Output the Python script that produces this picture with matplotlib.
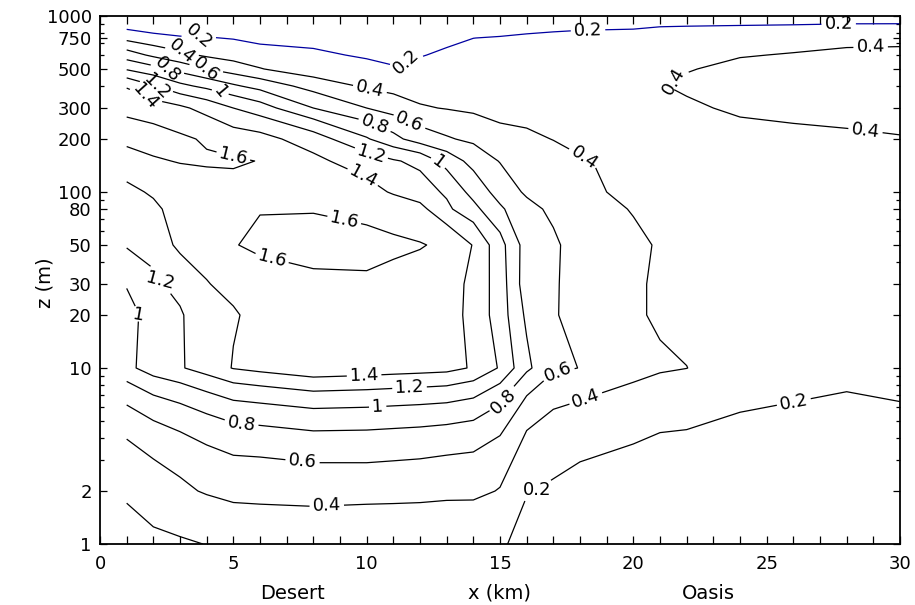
import numpy as np
import matplotlib
matplotlib.use("Agg")
import matplotlib.pyplot as plt
from matplotlib.ticker import FixedLocator, FixedFormatter, MultipleLocator, NullFormatter

# stations across the transect (km) and sounding heights (m)
x_km = [1, 2, 3, 4, 5, 6, 8, 10, 11, 12, 13, 14, 15, 16, 17, 18, 20, 21, 22, 24, 26, 28, 30]
z_m = [1, 2, 10, 20, 30, 50, 80, 100, 150, 200, 300, 400, 500, 600, 750, 1000]

# profile at each station, bottom to top
s01 = [0.14, 0.225, 0.945, 0.95, 1.01, 1.22, 1.30, 1.36, 1.50, 1.66, 1.57, 1.38, 0.98, 0.70, 0.34, -0.05]
s02 = [0.168, 0.295, 1.10, 1.06, 1.17, 1.26, 1.37, 1.42, 1.58, 1.68, 1.50, 1.21, 0.87, 0.56, 0.26, -0.05]
s03 = [0.182, 0.359, 1.18, 1.18, 1.26, 1.45, 1.46, 1.50, 1.61, 1.63, 1.44, 1.05, 0.73, 0.45, 0.22, -0.05]
s04 = [0.203, 0.42, 1.29, 1.32, 1.39, 1.50, 1.52, 1.53, 1.62, 1.58, 1.33, 0.95, 0.60, 0.37, 0.21, -0.03]
s05 = [0.25, 0.458, 1.41, 1.38, 1.46, 1.59, 1.55, 1.55, 1.62, 1.50, 1.20, 0.83, 0.50, 0.32, 0.19, -0.03]
s06 = [0.27, 0.46, 1.46, 1.46, 1.52, 1.64, 1.59, 1.55, 1.595, 1.47, 1.09, 0.73, 0.41, 0.28, 0.15, -0.03]
s08 = [0.26, 0.48, 1.55, 1.50, 1.57, 1.66, 1.59, 1.53, 1.45, 1.30, 0.80, 0.52, 0.28, 0.23, 0.147, -0.03]
s10 = [0.22, 0.484, 1.52, 1.50, 1.58, 1.65, 1.55, 1.47, 1.29, 1.02, 0.60, 0.37, 0.25, 0.18, 0.094, -0.03]
s11 = [0.225, 0.476, 1.50, 1.50, 1.56, 1.63, 1.51, 1.38, 1.22, 0.86, 0.51, 0.33, 0.215, 0.155, 0.09, -0.03]
s12 = [0.229, 0.467, 1.483, 1.50, 1.54, 1.61, 1.46, 1.29, 1.15, 0.70, 0.42, 0.30, 0.25, 0.19, 0.11, -0.02]
s13 = [0.24, 0.448, 1.464, 1.48, 1.50, 1.57, 1.24, 1.17, 0.92, 0.62, 0.39, 0.30, 0.27, 0.23, 0.157, 0.0]
s14 = [0.245, 0.444, 1.38, 1.347, 1.346, 1.39, 1.06, 0.93, 0.73, 0.56, 0.36, 0.31, 0.28, 0.25, 0.199, 0.04]
s15 = [0.22, 0.39, 1.18, 1.102, 1.103, 1.073, 0.83, 0.72, 0.59, 0.47, 0.32, 0.30, 0.29, 0.26, 0.21, 0.05]
s16 = [0.15, 0.21, 0.84, 0.762, 0.69, 0.708, 0.66, 0.57, 0.52, 0.44, 0.31, 0.30, 0.30, 0.28, 0.23, 0.05]
s17 = [0.12, 0.18, 0.64, 0.62, 0.62, 0.63, 0.56, 0.50, 0.47, 0.395, 0.30, 0.30, 0.31, 0.29, 0.24, 0.08]
s18 = [0.11, 0.148, 0.596, 0.52, 0.53, 0.52, 0.48, 0.45, 0.42, 0.33, 0.30, 0.31, 0.32, 0.30, 0.26, 0.07]
s20 = [0.10, 0.126, 0.474, 0.43, 0.44, 0.43, 0.39, 0.35, 0.33, 0.30, 0.32, 0.34, 0.33, 0.31, 0.27, 0.08]
s21 = [0.09, 0.11, 0.424, 0.37, 0.36, 0.387, 0.37, 0.33, 0.32, 0.30, 0.34, 0.39, 0.36, 0.33, 0.29, 0.10]
s22 = [0.09, 0.11, 0.402, 0.34, 0.33, 0.37, 0.35, 0.32, 0.31, 0.31, 0.37, 0.43, 0.39, 0.35, 0.30, 0.10]
s24 = [0.08, 0.118, 0.30, 0.32, 0.32, 0.35, 0.33, 0.31, 0.32, 0.34, 0.43, 0.46, 0.44, 0.39, 0.315, 0.10]
s26 = [0.08, 0.103, 0.28, 0.31, 0.31, 0.34, 0.32, 0.31, 0.33, 0.35, 0.46, 0.48, 0.46, 0.41, 0.33, 0.10]
s28 = [0.08, 0.08, 0.26, 0.30, 0.31, 0.33, 0.32, 0.32, 0.34, 0.37, 0.47, 0.49, 0.47, 0.43, 0.357, 0.10]
s30 = [0.08, 0.10, 0.28, 0.31, 0.32, 0.33, 0.32, 0.33, 0.36, 0.39, 0.48, 0.50, 0.48, 0.435, 0.36, 0.10]

levels = [0.4, 0.6, 0.8, 1.0, 1.2, 1.4, 1.6]

ytick_vals = [1, 2, 10, 20, 30, 50, 80, 100, 200, 300, 500, 750, 1000]
ytick_minor = [3, 4, 5, 6, 7, 8, 9, 40, 60, 70, 90, 400, 600, 700, 800, 900]

# label spots along the isolines; an optional third value fixes the text angle
label_pos = {
    0.4: [(3.1, 650, -40), (10.1, 370), (18.1, 150), (8.5, 1.7), (18.2, 6.8),
          (21.6, 410, 60), (28.9, 655), (28.7, 220)],
    0.6: [(4.0, 515, -40), (11.6, 250), (17.2, 9.0), (7.6, 3.0)],
    0.8: [(2.5, 480, -45), (10.3, 240), (14.9, 6.9), (5.3, 4.8)],
    1.0: [(4.5, 365, -50), (12.7, 148), (10.4, 6.6), (1.6, 20, -10)],
    1.2: [(2.1, 390, -45), (10.2, 172), (11.6, 8.2), (2.2, 31, -15)],
    1.4: [(1.7, 345, -48), (9.9, 125), (9.9, 9.5)],
    1.6: [(5.0, 160), (9.2, 74), (6.4, 39)],
}
low02_pos = [(16.4, 2.0, 0), (26.0, 6.6)]
top02_pos = [(3.7, 730, -40), (11.5, 550, 42), (18.3, 845), (27.7, 890)]

V = np.array([s01, s02, s03, s04, s05, s06, s08, s10, s11, s12, s13, s14,
              s15, s16, s17, s18, s20, s21, s22, s24, s26, s28, s30]).T
z = np.array(z_m)

fig = plt.figure(figsize=(9.15, 6.05), dpi=100)
ax = fig.add_axes([100 / 915, 61 / 605, 800 / 915, 528 / 605])
ax.set_yscale('log')
ax.set_xlim(0, 30)
ax.set_ylim(1, 1000)

lw = 0.9
lbl = dict(fmt='%g', fontsize=13, colors='k', inline_spacing=3)


def put_labels(cs, spots):
    texts = ax.clabel(cs, manual=[(p[0], p[1]) for p in spots], **lbl)
    for t, p in zip(texts, spots):
        if len(p) > 2:
            t.set_rotation(p[2])


# one contour set per level so each label lands on its own line
for lev in levels:
    cs = ax.contour(x_km, z, V, levels=[lev], colors='k', linewidths=lw)
    put_labels(cs, label_pos[lev])

lo = z <= 100
hi = z >= 300
cs_low = ax.contour(x_km, z[lo], V[lo], levels=[0.2], colors='k', linewidths=lw)
cs_top = ax.contour(x_km, z[hi], V[hi], levels=[0.2], colors='#0000a0', linewidths=lw)
put_labels(cs_low, low02_pos)
put_labels(cs_top, top02_pos)

# axes styling
ax.xaxis.set_major_locator(MultipleLocator(5))
ax.xaxis.set_minor_locator(MultipleLocator(1))
ax.yaxis.set_major_locator(FixedLocator(ytick_vals))
ax.yaxis.set_major_formatter(FixedFormatter([str(v) for v in ytick_vals]))
ax.yaxis.set_minor_locator(FixedLocator(ytick_minor))
ax.yaxis.set_minor_formatter(NullFormatter())

ax.tick_params(which='both', direction='in', top=True, right=True, width=0.9)
ax.tick_params(axis='x', which='both', length=6, labelsize=13, pad=8)
ax.tick_params(axis='y', which='major', length=5, labelsize=13, pad=6)
ax.tick_params(axis='y', which='minor', length=3)
for sp in ax.spines.values():
    sp.set_linewidth(1.3)

ax.set_xlabel('x (km)', fontsize=14, va='center')
ax.xaxis.set_label_coords(0.5, -0.093)
ax.set_ylabel('z (m)', fontsize=14, va='center')
ax.yaxis.set_label_coords(-0.069, 0.494)
ax.text(7.2, -0.093, 'Desert', transform=ax.get_xaxis_transform(),
        ha='center', va='center', fontsize=14)
ax.text(22.8, -0.093, 'Oasis', transform=ax.get_xaxis_transform(),
        ha='center', va='center', fontsize=14)

fig.savefig('out.png', dpi=100)
